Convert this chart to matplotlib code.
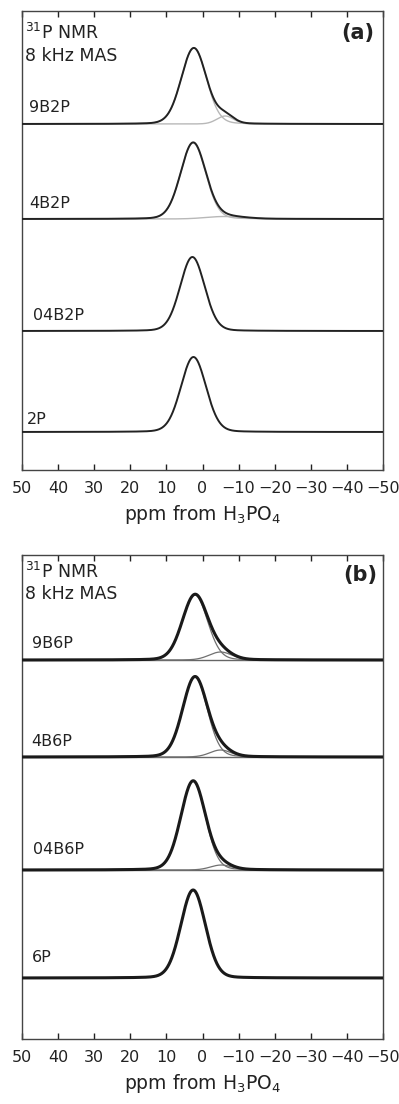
import numpy as np
import matplotlib
matplotlib.use("Agg")
import matplotlib.pyplot as plt

plt.rcParams['font.family'] = ['DejaVu Sans']
plt.rcParams['mathtext.default'] = 'regular'

# ---------------- data ----------------
ppm_ticks = [50, 40, 30, 20, 10, 0, -10, -20, -30, -40, -50]

samples_a = ["9B2P", "4B2P", "04B2P", "2P"]
main_center_a = [2.4, 2.6, 2.8, 2.5]      # ppm
main_height_a = [76, 76, 74, 75]          # intensity (a.u.)
main_fwhm_a = [8.2, 8.2, 8.0, 8.2]        # ppm
minor_center_a = [-6.3, -6.0, -6.0, -6.0]
minor_height_a = [8.0, 2.5, 0.0, 0.0]
minor_fwhm_a = [5.5, 12.0, 6.0, 6.0]

samples_b = ["9B6P", "4B6P", "04B6P", "6P"]
main_center_b = [2.1, 2.1, 2.6, 2.6]
main_height_b = [65, 80, 89, 88]
main_fwhm_b = [8.2, 8.0, 8.0, 8.0]
minor_center_b = [-5.0, -5.0, -5.2, -5.0]
minor_height_b = [8.0, 7.0, 5.0, 0.0]
minor_fwhm_b = [7.5, 7.0, 7.0, 7.0]

# ---------------- layout (pixels) ----------------
W, H = 399, 1104
ETA = 0.1  # Lorentzian fraction of the line shape


def lineshape(x, c, h, w):
    g = np.exp(-4 * np.log(2) * ((x - c) / w) ** 2)
    l = 1.0 / (1.0 + (2 * (x - c) / w) ** 2)
    return h * ((1 - ETA) * g + ETA * l)


x = np.linspace(50, -50, 2001)

fig = plt.figure(figsize=(W / 100, H / 100), dpi=100)


def fx(px):
    return px / W


def fy(py):
    return 1 - py / H


def make_axes(top, bottom):
    ax = fig.add_axes([fx(22), fy(bottom), (383 - 22) / W, (bottom - top) / H])
    ax.set_xlim(50, -50)
    ax.set_ylim(0, bottom - top)
    ax.set_yticks([])
    ax.set_xticks(ppm_ticks)
    ax.tick_params(axis='x', direction='in', length=4.5, width=1.0, top=True,
                   bottom=True, labelsize=11.5, pad=8, colors='#222222')
    for s in ax.spines.values():
        s.set_color('#444444')
        s.set_linewidth(1.0)
    ax.set_xlabel('ppm from H$_3$PO$_4$', fontsize=13.5, labelpad=5, color='#222222')
    return ax


# panel (a)
top_a, bot_a = 11, 470
base_px_a = [124, 219, 331, 432]
label_px_a = [(29, 108), (29, 203), (33, 315), (27, 420)]
ax_a = make_axes(top_a, bot_a)
for i in range(4):
    b = bot_a - base_px_a[i]
    main = lineshape(x, main_center_a[i], main_height_a[i], main_fwhm_a[i])
    minor = lineshape(x, minor_center_a[i], minor_height_a[i], minor_fwhm_a[i])
    if minor_height_a[i] > 0:
        ax_a.plot(x, b + main, color='#b8b8b8', lw=1.0, zorder=2)
        ax_a.plot(x, b + minor, color='#b8b8b8', lw=1.0, zorder=2)
    ax_a.plot(x, b + main + minor, color='#222222', lw=1.4, zorder=3)
    lx, ly = label_px_a[i]
    fig.text(fx(lx), fy(ly), samples_a[i], fontsize=11.5, ha='left', va='center',
             color='#222222')

fig.text(fx(25), fy(33), '$^{31}$P NMR', fontsize=12.5, ha='left', va='center', color='#222222')
fig.text(fx(25), fy(56), '8 kHz MAS', fontsize=12.5, ha='left', va='center', color='#222222')
fig.text(fx(374), fy(33), '(a)', fontsize=15, fontweight='bold', ha='right', va='center',
         color='#222222')

# panel (b)
top_b, bot_b = 555, 1039
base_px_b = [660, 757, 870, 978]
label_px_b = [(32, 643), (31, 742), (33, 850), (32, 958)]
ax_b = make_axes(top_b, bot_b)
for i in range(4):
    b = bot_b - base_px_b[i]
    main = lineshape(x, main_center_b[i], main_height_b[i], main_fwhm_b[i])
    minor = lineshape(x, minor_center_b[i], minor_height_b[i], minor_fwhm_b[i])
    if i < 3:
        ax_b.axhline(b, color='#666666', lw=1.0, zorder=1)
    if minor_height_b[i] > 0:
        ax_b.plot(x, b + main, color='#707070', lw=0.9, zorder=2)
        ax_b.plot(x, b + minor, color='#707070', lw=0.9, zorder=2)
    ax_b.plot(x, b + main + minor, color='#1a1a1a', lw=2.2, zorder=3)
    lx, ly = label_px_b[i]
    fig.text(fx(lx), fy(ly), samples_b[i], fontsize=11.5, ha='left', va='center',
             color='#222222')

fig.text(fx(25), fy(572), '$^{31}$P NMR', fontsize=12.5, ha='left', va='center', color='#222222')
fig.text(fx(25), fy(594), '8 kHz MAS', fontsize=12.5, ha='left', va='center', color='#222222')
fig.text(fx(377), fy(575), '(b)', fontsize=15, fontweight='bold', ha='right', va='center',
         color='#222222')

fig.savefig('out.png', dpi=100, facecolor='white')
